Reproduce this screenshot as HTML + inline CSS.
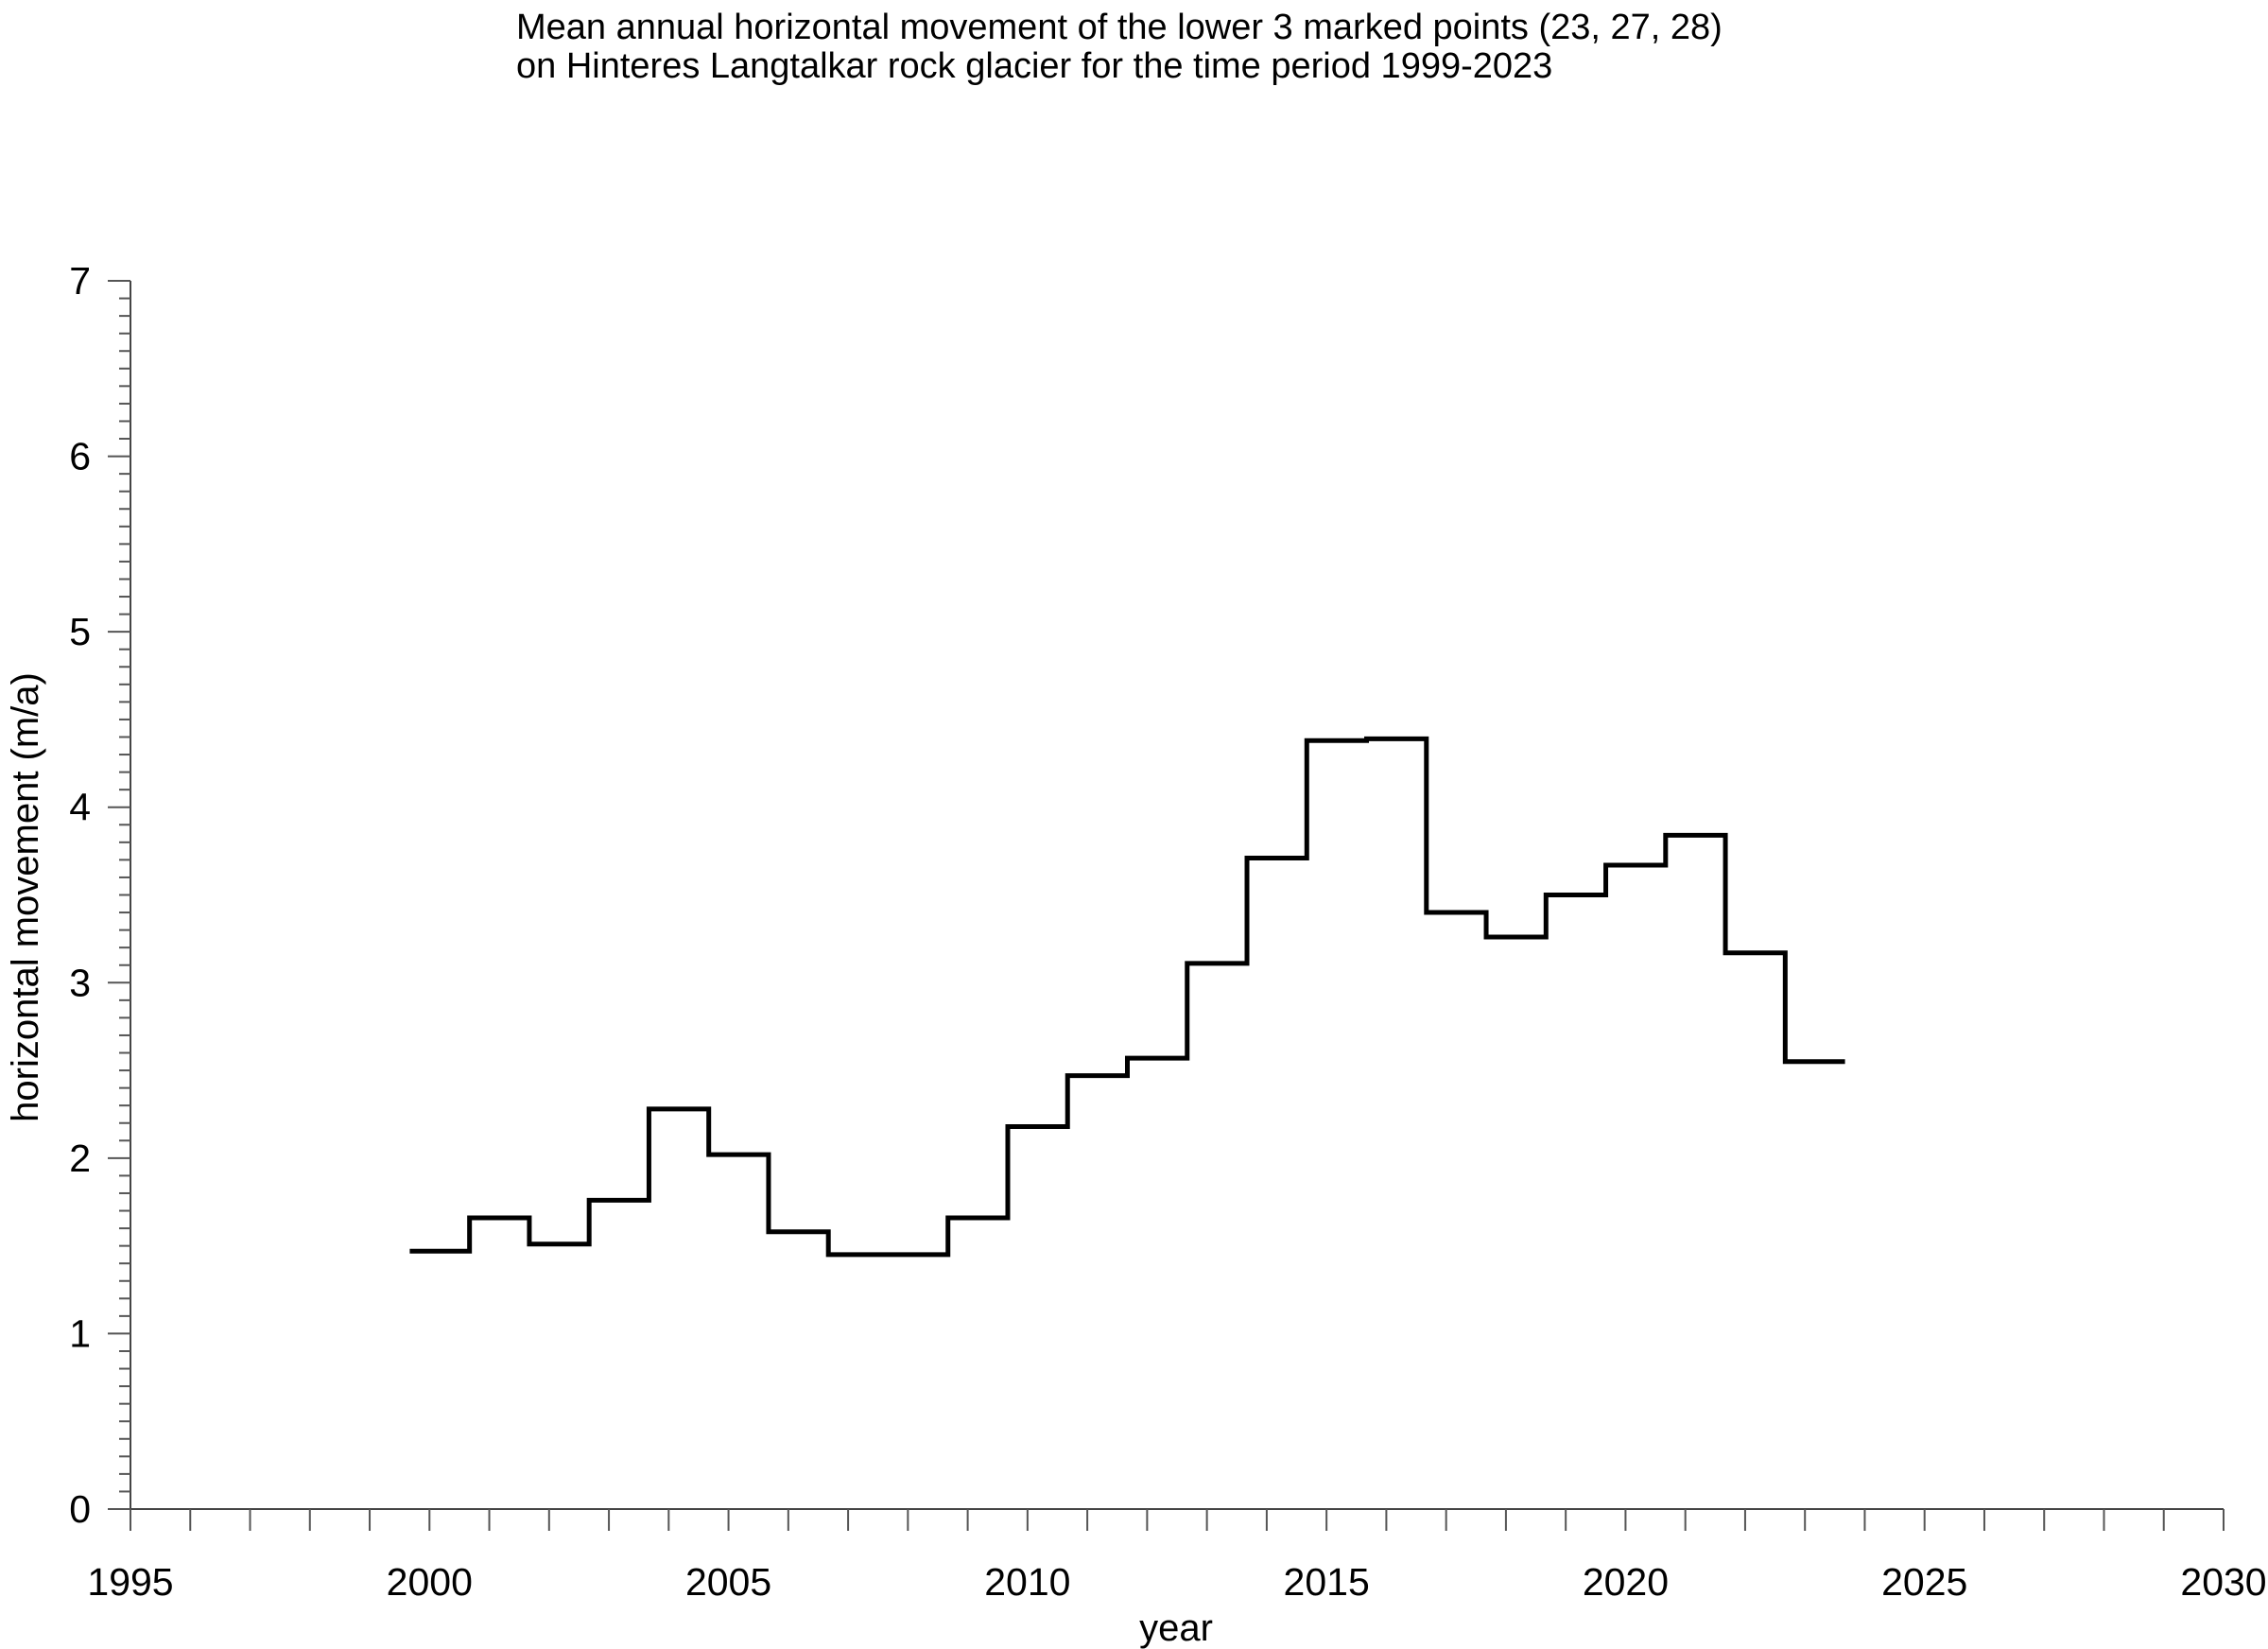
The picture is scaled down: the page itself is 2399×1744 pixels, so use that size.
<!DOCTYPE html>
<html><head><meta charset="utf-8"><style>
html,body{margin:0;padding:0;background:#fff}
svg{display:block;font-family:"Liberation Sans",Arial,sans-serif}
</style></head><body>
<svg id="chart" width="2399" height="1744" viewBox="0 0 2399 1744" xmlns="http://www.w3.org/2000/svg">
<g font-size="38" fill="#000">
<text x="546" y="41">Mean annual horizontal movement of the lower 3 marked points (23, 27, 28)</text>
<text x="546" y="82">on Hinteres Langtalkar rock glacier for the time period 1999-2023</text>
</g>
<g id="axes"></g>
<g id="series"></g>
<text x="1244" y="1735" text-anchor="middle" font-size="40">year</text>
<text transform="translate(40,949) rotate(-90)" text-anchor="middle" font-size="40">horizontal movement (m/a)</text>
</svg>
<script>
const startYears = [1999.67,2000.67,2001.67,2002.67,2003.67,2004.67,2005.67,2006.67,2007.67,2008.67,2009.67,2010.67,2011.67,2012.67,2013.67,2014.67,2015.67,2016.67,2017.67,2018.67,2019.67,2020.67,2021.67,2022.67];
const values = [1.47,1.66,1.51,1.76,2.28,2.02,1.58,1.45,1.45,1.66,2.18,2.47,2.57,3.11,3.71,4.38,4.39,3.40,3.26,3.50,3.67,3.84,3.17,2.55];
const xTickLabels = [1995,2000,2005,2010,2015,2020,2025,2030];
const yTickLabels = [0,1,2,3,4,5,6,7];

const NS = "http://www.w3.org/2000/svg";
const X0 = 138, X1 = 2352, Y0 = 1596, Y1 = 297;
const xMin = 1995, xMax = 2030, yMin = 0, yMax = 7;
function xs(v){ return X0 + (v - xMin) / (xMax - xMin) * (X1 - X0); }
function ys(v){ return Y0 - (v - yMin) / (yMax - yMin) * (Y0 - Y1); }
function mk(tag, attrs, parent){ const e = document.createElementNS(NS, tag); for (const k in attrs) e.setAttribute(k, attrs[k]); parent.appendChild(e); return e; }

const axes = document.getElementById('axes');
const yAxis = mk('line', {x1:X0, y1:Y1, x2:X0, y2:Y0, stroke:'#444', 'stroke-width':2}, axes);


const xAxis = mk('line', {x1:X0-24, y1:Y0, x2:X1, y2:Y0, stroke:'#444', 'stroke-width':2}, axes);



for (let i = yMin*10; i <= yMax*10; i++) {
  const v = i / 10, y = ys(v), major = (i % 10 === 0);
  const t = mk('line', {x1: major ? X0-24 : X0-12, y1:y, x2:X0, y2:y, stroke:'#555', 'stroke-width':2}, axes);
  
  
}
yTickLabels.forEach(v => {
  const t = mk('text', {x:X0-42, y:ys(v)+14, 'text-anchor':'end', 'font-size':41}, axes);
  t.textContent = v;
  
  
});
for (let yr = xMin; yr <= xMax; yr++) {
  const x = xs(yr);
  const t = mk('line', {x1:x, y1:Y0, x2:x, y2:Y0+23, stroke:'#555', 'stroke-width':2}, axes);
  
  
}
xTickLabels.forEach(v => {
  const t = mk('text', {x:xs(v), y:1687, 'text-anchor':'middle', 'font-size':41}, axes);
  t.textContent = v;
  
  
});

const series = document.getElementById('series');
let d = '';
startYears.forEach((s, i) => {
  const xa = xs(s), xb = xs(s + 1), y = ys(values[i]);
  d += (i === 0 ? 'M' : 'L') + xa + ',' + y + 'L' + xb + ',' + y;
});
const path = mk('path', {d:d, fill:'none', stroke:'#000', 'stroke-width':5, 'stroke-linejoin':'miter'}, series);


</script>
</body></html>
